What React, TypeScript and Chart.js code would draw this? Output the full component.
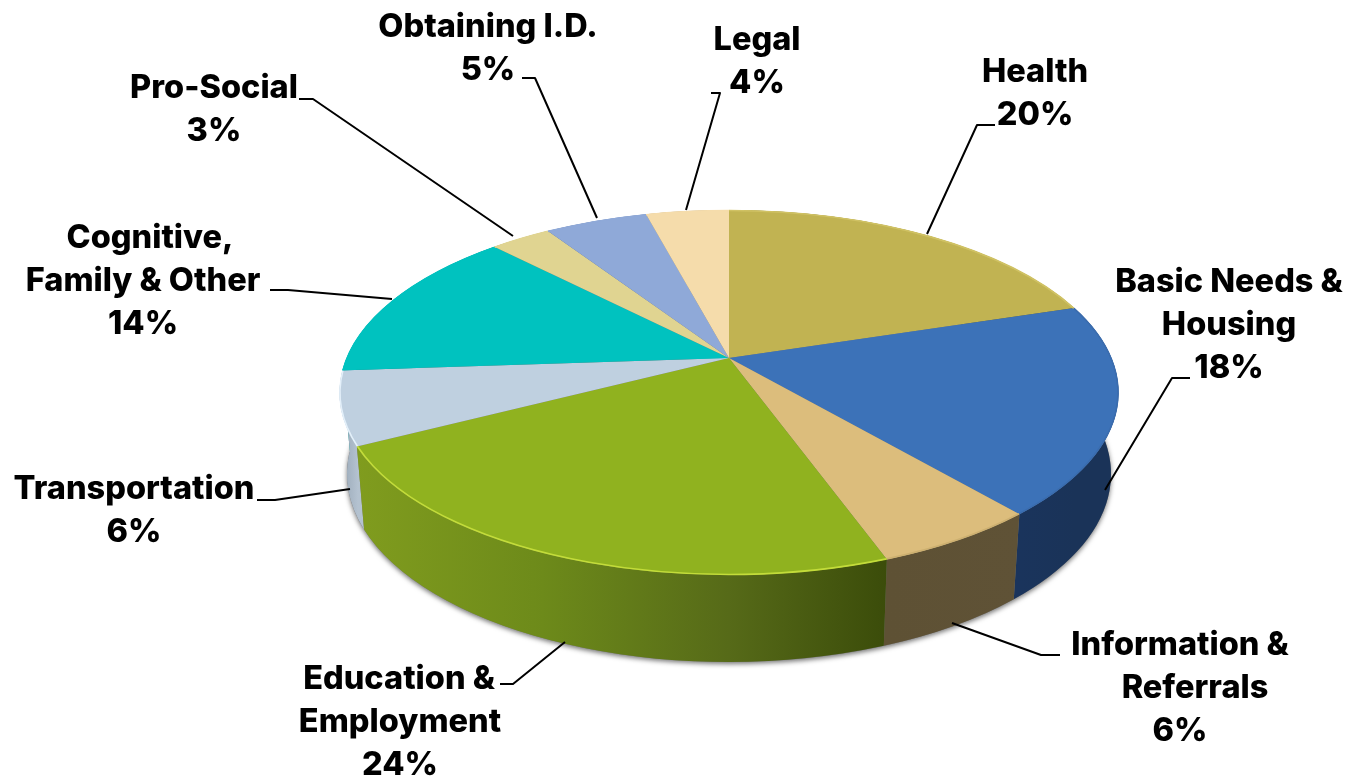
import React, { useEffect, useRef } from "react";
import { Chart, registerables } from "chart.js";

Chart.register(...registerables);

// ---------- data ----------
const categories: string[][] = [
  ["Health"],
  ["Basic Needs &", "Housing"],
  ["Information &", "Referrals"],
  ["Education &", "Employment"],
  ["Transportation"],
  ["Cognitive,", "Family & Other"],
  ["Pro-Social"],
  ["Obtaining I.D."],
  ["Legal"],
];
const shares = [20, 18, 6, 24, 6, 14, 3, 5, 4];

// ---------- styling ----------
const topColors = ["#c1b352", "#3c72b8", "#dcbd7c", "#90b21f", "#bfd0e0", "#00c2bf", "#e0d491", "#8fa9d8", "#f5dcab"];
const wallStops: [number, string][][] = [
  [[0, "#6b6330"], [1, "#6b6330"]],
  [[0, "#1a345c"], [1, "#1a3358"]],
  [[0, "#5e5134"], [1, "#5f5236"]],
  [[0, "#809c1e"], [0.35, "#6d8a1a"], [0.7, "#566a18"], [1, "#3b4c0a"]],
  [[0, "#9aa9b8"], [1, "#b4c2d0"]],
  [[0, "#008a88"], [1, "#008a88"]],
  [[0, "#8f8650"], [1, "#8f8650"]],
  [[0, "#566a90"], [1, "#566a90"]],
  [[0, "#a8946c"], [1, "#a8946c"]],
];
const rimColors = ["#d0c264", "#3a6cae", "#cdb070", "#c3dc3a", "#e4f0fa", "#00c2bf", "#e0d491", "#8fa9d8", "#f5dcab"];

// Perspective disc geometry: the far half is foreshortened more than the near half
const SQUASH_FAR = 0.445;
const SQUASH_NEAR = 0.505;
const TOP = { cx: 729, cy: 392.5, rx: 389.5, ry: 182.5 };
const BOTTOM = { cx: 729, cy: 474, rx: 382, ry: 188 };

// Label placement: per line centre x, first line centre y, elbow leader
const LINE_H = 43;
const labelLayout = [
  { xs: [1035, 1035], y: 72.5, leader: [[995, 125], [977, 125], [927, 234]] },
  { xs: [1229, 1229, 1229], y: 282.5, leader: [[1190, 378], [1172, 378], [1105, 490]] },
  { xs: [1180, 1195, 1180], y: 645.5, leader: [[1060, 655], [1041, 655], [952, 623]] },
  { xs: [399, 400, 400], y: 679.5, leader: [[500, 684], [513, 684], [565, 642]] },
  { xs: [134, 134], y: 489.5, leader: [[257, 500], [275, 500], [350, 489]] },
  { xs: [150, 143, 143], y: 238.5, leader: [[270, 290], [288, 290], [392, 299]] },
  { xs: [214, 214], y: 88.5, leader: [[299, 99], [313, 99], [513, 236]] },
  { xs: [488, 488], y: 27.5, leader: [[522, 78], [535, 78], [597, 218]] },
  { xs: [757, 757], y: 40.5, leader: [[711, 93], [720, 93], [686, 210]] },
];

function rimAngle(ax: number, ay: number, theta: number) {
  const s = Math.sin(theta);
  const dx = Math.cos(theta);
  const dy = (s < 0 ? SQUASH_FAR : SQUASH_NEAR) * s;
  const ox = (ax - TOP.cx) / TOP.rx;
  const oy = (ay - TOP.cy) / TOP.ry;
  const ux = dx / TOP.rx;
  const uy = dy / TOP.ry;
  const a = ux * ux + uy * uy;
  const b = 2 * (ox * ux + oy * uy);
  const c = ox * ox + oy * oy - 1;
  const t = (-b + Math.sqrt(b * b - 4 * a * c)) / (2 * a);
  return Math.atan2(oy + t * uy, ox + t * ux);
}

function sliceRange(arc: any, ax: number, ay: number) {
  const p1 = rimAngle(ax, ay, arc.startAngle);
  let p2 = rimAngle(ax, ay, arc.endAngle);
  while (p2 < p1) p2 += Math.PI * 2;
  return [p1, p2];
}

function enterFace(ctx: CanvasRenderingContext2D, ax: number, ay: number, far: boolean) {
  ctx.save();
  ctx.beginPath();
  ctx.ellipse(TOP.cx, TOP.cy, TOP.rx, TOP.ry, 0, 0, Math.PI * 2);
  ctx.clip();
  ctx.beginPath();
  if (far) ctx.rect(0, 0, 1361, ay + 1);
  else ctx.rect(0, ay, 1361, 778 - ay);
  ctx.clip();
  ctx.translate(ax, ay);
  ctx.scale(1, far ? SQUASH_FAR : SQUASH_NEAR);
  ctx.translate(-ax, -ay);
}

const discPlugin = {
  id: "disc3d",
  beforeDatasetsDraw(chart: any) {
    const ctx = chart.ctx as CanvasRenderingContext2D;
    const arcs = chart.getDatasetMeta(0).data as any[];
    const { x: ax, y: ay } = arcs[0];

    // soft shadow under the disc
    ctx.save();
    ctx.shadowColor = "rgba(0,0,0,0.55)";
    ctx.shadowBlur = 5;
    ctx.shadowOffsetY = 2;
    ctx.fillStyle = "#777";
    ctx.beginPath();
    ctx.ellipse(BOTTOM.cx, BOTTOM.cy, BOTTOM.rx, BOTTOM.ry, 0, 0, Math.PI * 2);
    ctx.fill();
    ctx.restore();

    // side walls from each slice's own angles, far ones first
    const walls = arcs.map((arc, i) => {
      const [p1, p2] = sliceRange(arc, ax, ay);
      return { i, p1, p2, depth: Math.sin((p1 + p2) / 2) };
    });
    walls.sort((a, b) => a.depth - b.depth);
    walls.forEach(({ i, p1, p2 }) => {
      const x1 = TOP.cx + TOP.rx * Math.cos(p1);
      const x2 = TOP.cx + TOP.rx * Math.cos(p2);
      const g = ctx.createLinearGradient(Math.min(x1, x2), 0, Math.max(x1, x2) + 1, 0);
      wallStops[i].forEach(([o, c]) => g.addColorStop(o, c));
      ctx.fillStyle = g;
      ctx.beginPath();
      ctx.ellipse(TOP.cx, TOP.cy, TOP.rx, TOP.ry, 0, p1, p2);
      ctx.ellipse(BOTTOM.cx, BOTTOM.cy, BOTTOM.rx, BOTTOM.ry, 0, p2, p1, true);
      ctx.closePath();
      ctx.fill();
    });

    // top face: native arcs squashed about the apex, trimmed to the rim
    enterFace(ctx, ax, ay, true);
  },
  afterDatasetsDraw(chart: any) {
    const ctx = chart.ctx as CanvasRenderingContext2D;
    ctx.restore();
    const arcs = chart.getDatasetMeta(0).data as any[];
    const { x: ax, y: ay } = arcs[0];

    // near half of the top face
    enterFace(ctx, ax, ay, false);
    arcs.forEach((arc) => arc.draw(ctx));
    ctx.restore();

    // bevel along the rim
    arcs.forEach((arc, i) => {
      const [p1, p2] = sliceRange(arc, ax, ay);
      ctx.strokeStyle = rimColors[i];
      ctx.lineWidth = 1.6;
      ctx.beginPath();
      ctx.ellipse(TOP.cx, TOP.cy, TOP.rx - 0.5, TOP.ry - 0.5, 0, p1, p2);
      ctx.stroke();
    });

    // leaders
    ctx.strokeStyle = "#000";
    ctx.lineWidth = 2;
    ctx.lineJoin = "round";
    labelLayout.forEach(({ leader }) => {
      ctx.beginPath();
      leader.forEach(([x, y], k) => (k ? ctx.lineTo(x, y) : ctx.moveTo(x, y)));
      ctx.stroke();
    });

    // labels
    ctx.fillStyle = "#000";
    ctx.font = '800 32.5px Inter, Lato, sans-serif';
    ctx.textAlign = "center";
    ctx.textBaseline = "middle";
    categories.forEach((name, i) => {
      const lines = [...name, `${shares[i]}%`];
      const lay = labelLayout[i];
      lines.forEach((t, k) => ctx.fillText(t, lay.xs[k], lay.y + k * LINE_H));
    });
  },
};

export default function App() {
  const ref = useRef<HTMLCanvasElement>(null);
  useEffect(() => {
    const chart = new Chart(ref.current!, {
      type: "pie",
      data: {
        labels: categories,
        datasets: [{ data: shares, backgroundColor: topColors, borderWidth: 0, clip: false } as any],
      },
      options: {
        animation: false,
        responsive: false,
        radius: 640,
        layout: { padding: { left: 97, bottom: 62 } },
        plugins: { legend: { display: false }, tooltip: { enabled: false } },
      } as any,
      plugins: [discPlugin],
    });
    return () => chart.destroy();
  }, []);
  return (
    <div style={{ position: "absolute", left: 0, top: 0, width: 1361, height: 778, background: "#fff" }}>
      <canvas ref={ref} width={1361} height={778} style={{ display: "block" }} />
    </div>
  );
}
